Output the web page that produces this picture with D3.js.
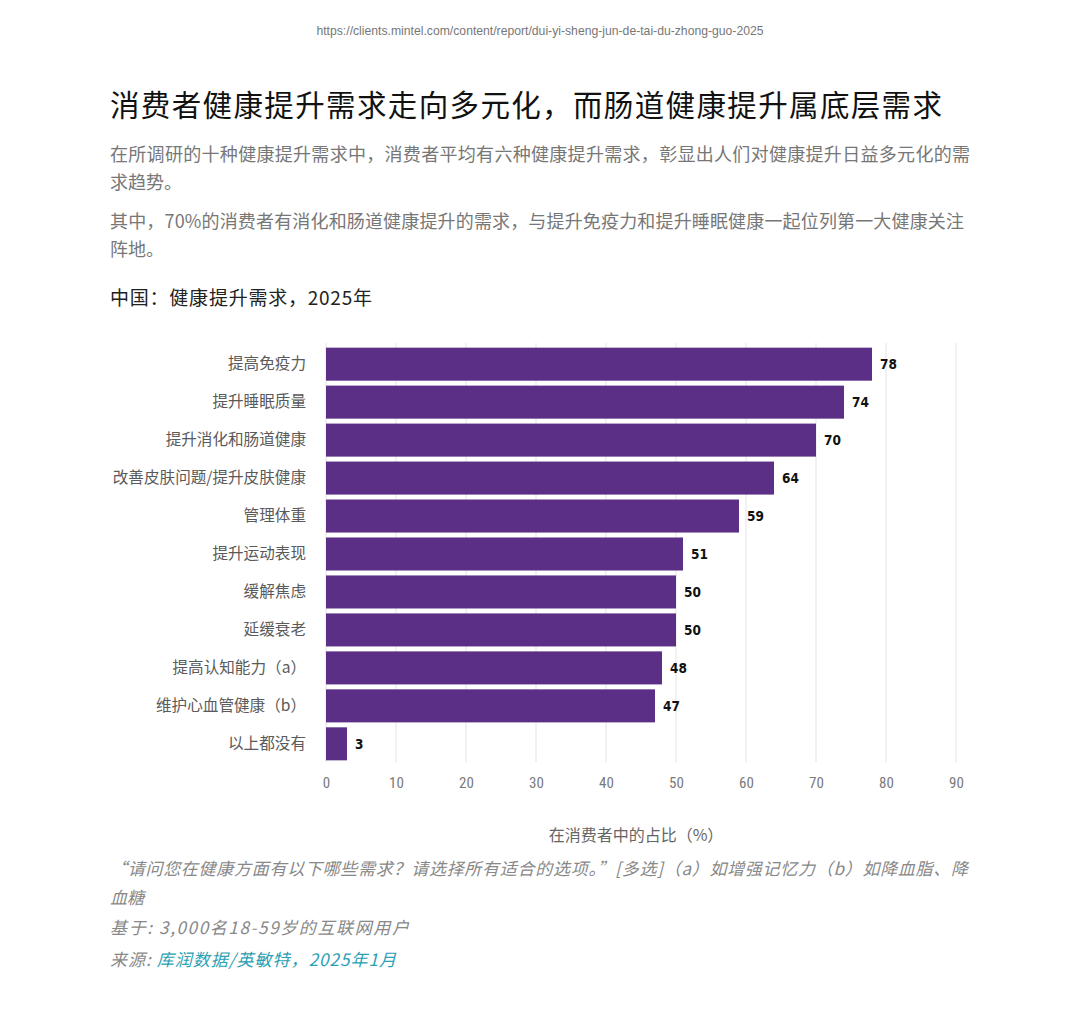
<!DOCTYPE html>
<html><head><meta charset="utf-8">
<script src="https://cdn.jsdelivr.net/npm/d3@7"></script>
<style>
body{margin:0;background:#fff;}
svg{display:block;}
</style></head>
<body>
<svg id="c" width="1080" height="1019"></svg>
<script>
const categories = ["提高免疫力","提升睡眠质量","提升消化和肠道健康","改善皮肤问题/提升皮肤健康","管理体重","提升运动表现","缓解焦虑","延缓衰老","提高认知能力（a）","维护心血管健康（b）","以上都没有"];
const values = [78,74,70,64,59,51,50,50,48,47,3];
const xTicks = [0,10,20,30,40,50,60,70,80,90];

const svg = d3.select("#c");
const font = "'Noto Sans CJK SC', 'Noto Sans', sans-serif";

function line(txt, xx, yy, size, fill, len, opts={}){
  const t = svg.append("text").attr("x",xx).attr("y",yy).attr("font-family",opts.family||font)
    .attr("font-size",size).attr("fill",fill);
  if(opts.italic) t.attr("font-style","italic");
  if(opts.anchor) t.attr("text-anchor",opts.anchor);
  if(len) t.attr("textLength",len).attr("lengthAdjust","spacing");
  if(txt!==null) t.text(txt);
  return t;
}

line("https://clients.mintel.com/content/report/dui-yi-sheng-jun-de-tai-du-zhong-guo-2025",540,35,12.2,"#777",null,
  {family:"'Liberation Sans', Arial, sans-serif",anchor:"middle"});

line("消费者健康提升需求走向多元化，而肠道健康提升属底层需求",110,116,29.5,"#111",832);

line("在所调研的十种健康提升需求中，消费者平均有六种健康提升需求，彰显出人们对健康提升日益多元化的需",110,161,18,"#777",860);
line("求趋势。",110,189,18,"#777");
line("其中，70%的消费者有消化和肠道健康提升的需求，与提升免疫力和提升睡眠健康一起位列第一大健康关注",110,228,18,"#777",854);
line("阵地。",110,256,18,"#777");

line("中国：健康提升需求，2025年",110,305,19,"#222",262);

const x = d3.scaleLinear().domain([0,90]).range([326,956]);
const y = d3.scaleBand().domain(categories).range([345,763]).paddingInner(0.13).paddingOuter(0.07);

// grid
svg.append("g").selectAll("line").data(xTicks).join("line")
  .attr("x1",d=>x(d)).attr("x2",d=>x(d)).attr("y1",343).attr("y2",762)
  .attr("stroke","#e3e3e3").attr("stroke-width",1);

// bars
svg.append("g").selectAll("rect").data(values).join("rect")
  .attr("x",x(0)).attr("y",(d,i)=>y(categories[i]))
  .attr("width",d=>x(d)-x(0)).attr("height",y.bandwidth())
  .attr("fill","#5b2f86");

// value labels
svg.append("g").selectAll("text").data(values).join("text")
  .attr("x",d=>x(d)+8).attr("y",(d,i)=>y(categories[i])+y.bandwidth()/2)
  .attr("dy","0.36em").attr("font-family","'DejaVu Sans Condensed','DejaVu Sans',sans-serif")
  .attr("font-weight","bold").attr("font-size",13.5).attr("fill","#111").text(d=>d);

// y axis labels
const ya = d3.axisLeft(y).tickSize(0).tickPadding(20);
const yg = svg.append("g").attr("transform",`translate(${x(0)},0)`).call(ya);
yg.select(".domain").remove();
yg.selectAll("text").attr("font-family",font).attr("font-size",15.6).attr("fill","#5a5a5a");

// x axis
const xa = d3.axisBottom(x).tickValues(xTicks).tickSize(0).tickPadding(0);
const xg = svg.append("g").attr("transform","translate(0,777)").call(xa);
xg.select(".domain").remove();
xg.selectAll("text").attr("font-family","'Roboto Condensed','Liberation Sans Narrow','DejaVu Sans Condensed',sans-serif")
  .attr("font-size",15).attr("fill","#7a7a7a").attr("dy","0.71em");

line("在消费者中的占比（%）",636,841,16,"#666",null,{anchor:"middle"});

line("“请问您在健康方面有以下哪些需求？请选择所有适合的选项。”[多选]（a）如增强记忆力（b）如降血脂、降",110,875,17,"#888",858,{italic:true});
line("血糖",110,904,17,"#888",null,{italic:true});
line("基于: 3,000名18-59岁的互联网用户",110,934,17,"#888",299,{italic:true});
const src = line(null,110,966,17,"#888",286,{italic:true});
src.append("tspan").text("来源: ");
src.append("tspan").attr("fill","#2b9fb3").text("库润数据/英敏特，2025年1月");
</script>
</body></html>
